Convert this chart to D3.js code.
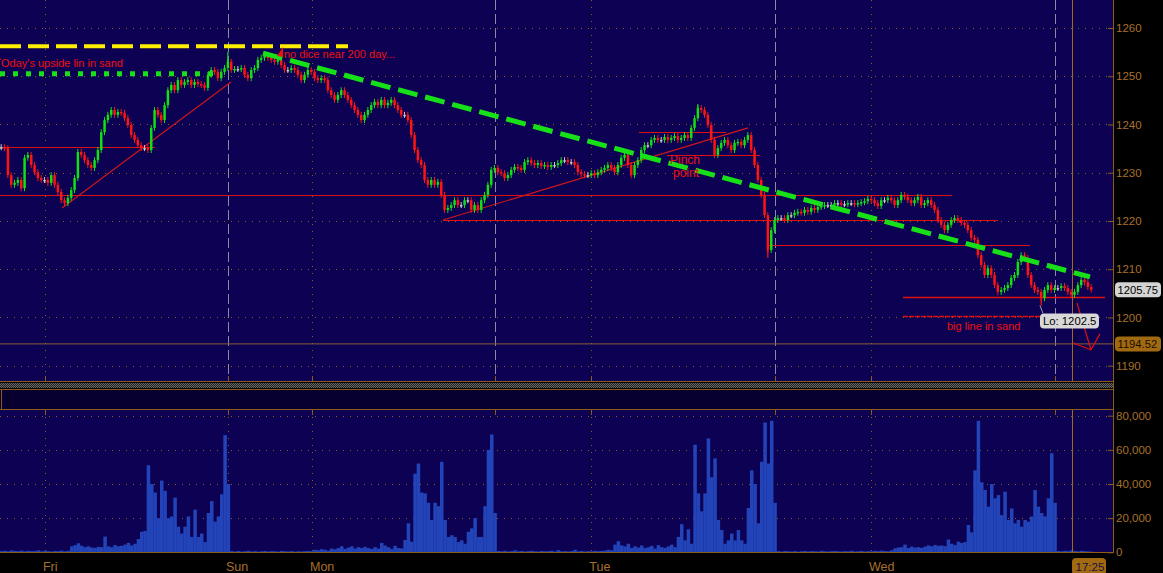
<!DOCTYPE html>
<html><head><meta charset="utf-8">
<script src="https://cdn.jsdelivr.net/npm/d3@7"></script>
<style>html,body{margin:0;padding:0;background:#000;overflow:hidden}svg{display:block}</style>
</head><body><svg id="c" width="1163" height="573"></svg>
<script>
// ---------- DATA ----------
// closing price per bar (bar index 0..327)
const closes = [
1235.3,1235.1,1229.5,1227.5,1227.9,1228.5,1226.8,1233.1,1233.7,1231.6,
1230.1,1228.9,1228.5,1228.5,1227.9,1229.5,1227.5,1226.0,1224.3,1223.7,
1224.8,1226.4,1228.9,1234.3,1233.7,1232.6,1231.6,1231.0,1232.6,1234.7,
1238.4,1240.9,1242.0,1243.0,1242.0,1242.6,1242.4,1241.3,1239.9,1237.8,
1236.8,1235.7,1235.1,1235.1,1234.7,1239.3,1243.0,1242.0,1240.9,1244.0,
1247.1,1248.2,1247.1,1249.2,1248.2,1248.8,1249.2,1248.2,1248.8,1248.4,
1248.2,1247.6,1250.3,1251.3,1250.9,1249.6,1250.9,1251.7,1253.0,1251.3,
1251.5,1251.5,1251.7,1250.3,1249.6,1251.3,1251.7,1253.4,1253.8,1254.4,
1253.8,1253.4,1253.0,1253.4,1252.3,1251.3,1251.3,1251.7,1251.3,1250.3,
1249.2,1250.3,1251.3,1250.9,1249.6,1249.2,1249.6,1249.2,1247.1,1246.1,
1245.1,1246.1,1247.1,1246.1,1245.1,1244.0,1243.0,1242.0,1240.9,1242.0,
1243.0,1244.0,1244.7,1244.0,1245.1,1244.0,1244.5,1245.1,1244.0,1243.0,
1242.0,1242.0,1240.9,1237.8,1234.7,1232.6,1231.6,1228.5,1227.5,1228.5,
1227.5,1228.1,1225.4,1222.3,1222.7,1223.3,1224.3,1223.3,1223.3,1224.3,
1224.3,1222.3,1223.3,1222.3,1224.3,1225.4,1227.5,1230.6,1231.0,1230.1,
1229.9,1228.9,1229.5,1230.6,1231.2,1231.0,1230.6,1232.2,1232.6,1232.0,
1231.6,1232.0,1231.4,1231.6,1231.2,1231.6,1231.6,1232.0,1232.6,1232.6,
1232.2,1232.2,1231.6,1230.1,1229.7,1229.5,1229.5,1229.9,1229.5,1230.1,
1230.6,1231.0,1231.6,1231.0,1230.1,1231.6,1233.1,1233.7,1231.6,1229.5,
1231.6,1232.6,1234.7,1235.7,1235.7,1236.8,1237.2,1236.8,1236.8,1237.4,
1236.8,1237.2,1237.6,1236.8,1237.2,1237.8,1237.2,1239.3,1241.3,1243.4,
1243.0,1242.0,1239.9,1236.8,1233.7,1235.1,1236.2,1236.8,1235.7,1234.7,
1236.2,1236.4,1235.7,1236.8,1237.8,1234.7,1231.6,1228.5,1225.4,1221.2,
1214.0,1218.1,1220.2,1220.6,1220.6,1220.2,1221.2,1221.2,1221.7,1221.9,
1221.7,1222.3,1221.9,1222.7,1222.3,1222.9,1223.1,1223.3,1223.3,1223.3,
1223.7,1223.7,1223.5,1223.5,1223.7,1223.7,1223.5,1223.7,1223.9,1224.1,
1224.6,1224.3,1223.7,1223.1,1224.3,1224.3,1224.8,1224.3,1223.3,1224.3,
1225.4,1225.0,1224.3,1223.7,1224.3,1225.0,1223.3,1223.7,1224.3,1223.3,
1222.3,1220.2,1219.2,1218.1,1219.2,1220.2,1220.6,1220.2,1219.6,1219.2,
1218.1,1216.5,1216.1,1212.9,1210.9,1208.8,1210.2,1208.8,1206.7,1205.3,
1205.7,1206.1,1206.7,1208.2,1208.8,1211.5,1212.9,1212.3,1208.8,1206.7,
1205.7,1205.3,1204.0,1205.7,1206.7,1205.7,1206.1,1206.1,1206.5,1206.1,
1205.3,1204.7,1205.3,1206.7,1207.8,1207.3,1206.3,1205.75
];
// notable wick extremes (bar index, price)
const wickIdx = [68, 209, 230, 312];
const wickPrice = [1255.1, 1244.2, 1212.4, 1202.5];

// volume per bar
const volumes = [
700,900,600,1100,800,700,1000,600,900,700,
800,1200,600,900,700,500,800,700,1000,600,
900,3500,4200,5300,3800,3000,3500,2800,2600,3200,
3000,9200,3500,3000,4200,3500,3800,4500,5500,4000,
5000,7800,12000,12500,51000,40000,35000,20000,42000,36000,
20000,21000,32000,15000,11000,15000,21000,9000,25000,9000,
11000,6000,23000,30000,18000,21000,34000,68600,40000,700,
500,800,400,600,900,500,700,400,600,800,
500,700,600,400,800,600,500,700,400,600,
500,700,800,600,1500,1200,1800,1500,1000,2200,
1800,2500,3500,2000,2800,3500,2200,3000,2500,3200,
2500,2000,3000,2200,5500,4000,3000,2000,3800,2500,
2300,7200,17000,6200,46000,52000,35000,34500,29000,19000,
29000,27000,53000,19000,9000,10000,9000,6000,7000,5000,
12000,14000,20000,9000,9000,27000,60000,69000,23000,800,
600,900,500,700,1200,600,800,500,700,900,
600,500,800,600,700,900,500,1300,600,700,
500,700,1500,600,800,500,700,600,900,700,
800,1000,1500,1200,4500,6500,4000,3500,5000,2500,
3500,2800,4000,2500,3000,3800,2200,4200,3000,2600,
3500,4500,3000,9000,16500,7000,13500,5000,63000,34500,
24000,34500,66700,44000,55000,19000,13000,5000,7000,11000,
7000,13000,7000,5000,26000,48000,40000,17000,53000,76000,
52000,77000,29000,700,500,800,600,500,700,400,
600,800,500,700,600,500,900,600,500,700,
800,600,500,700,600,900,500,600,800,500,
700,600,900,700,1000,800,600,1200,2300,2800,
3000,4500,2500,3300,2800,3000,2600,3300,4000,3500,
4300,3800,4000,3600,7500,5000,4300,6200,5500,6000,
16000,11700,48000,77000,41000,36500,26700,40000,31600,33500,
21800,35500,19000,25700,17000,19000,15000,19000,18000,21000,
36500,26700,23000,21000,31600,58000,29000,800,600,900,
700,1200,800,600,900,700,500,400
];

const priceTicks = [1190,1200,1210,1220,1230,1240,1250,1260];
const volumeTicks = [0,20000,40000,60000,80000];
const dayLabels = ["Fri","Sun","Mon","Tue","Wed"];
const dayTickIdx = [13.5,68.4,93.6,177.4,261.3];
const midnightIdx = [13.5,93.6,177.4,261.3];
const sessionIdx = [68.4,148.6,232.6,316.6];
const nowIdx = 321.7;
const nowLabel = "17:25";
const lastPrice = 1205.75;
const lowIdx = 312, lowPrice = 1202.5;
const markPrice = 1194.52;

// drawn annotations: horizontal levels [price, fromIdx, toIdx]
const levelPrices = [1235.3, 1225.4, 1220.2, 1215.0, 1204.3, 1238.4, 1233.7];
const levelFrom   = [0,      0,      132.9,  230.4,  270.9,  191.7,  200.1];
const levelTo     = [46.5,   285.6,  299.4,  309.0,  331.5,  217.8,  228.0];
const dashedLevel = [1200.2, 270.9, 312.0];
// rising support lines [idx0, p0, idx1, p1]
const supportA = [18.6, 1222.7, 69.3, 1248.8];
const supportB = [132.9, 1220.2, 224.4, 1239.3];
const yellowLine = [0, 1256.2, 104.4, 1256.2];
const greenDotted = [0, 1250.5, 65.1, 1250.5];
const greenTrend = [78.9, 1254.8, 327.0, 1208.4];
const arrowIdx = [323.1, 327.3, 330.0];
const arrowPrice = [1203.0, 1193.3, 1196.6];
const arrowTail = [321.9, 1194.7];

// ---------- DRAW ----------
const svg = d3.select("#c");
const FONT = "'Liberation Sans', Arial, sans-serif";
const NAVY = "#0c0152", AX = "#8c5c1c", AXT = "#a8702c";
const xs = d3.scaleLinear().domain([0, 334]).range([0, 1113.3]);
const ys = d3.scaleLinear().domain([1190, 1260]).range([365.7, 28]);
const yv = d3.scaleLinear().domain([0, 80000]).range([552.3, 415.7]);
const PR = 1113; // plot right edge

const defs = svg.append("defs");
const pat = defs.append("pattern").attr("id","chk").attr("width",2).attr("height",2).attr("patternUnits","userSpaceOnUse");
pat.append("rect").attr("width",2).attr("height",2).attr("fill","#222");
pat.append("rect").attr("width",1).attr("height",1).attr("fill","#666");
pat.append("rect").attr("x",1).attr("y",1).attr("width",1).attr("height",1).attr("fill","#666");
defs.append("clipPath").attr("id","pclip").append("rect").attr("x",0).attr("y",0).attr("width",PR).attr("height",381);
defs.append("clipPath").attr("id","vclip").append("rect").attr("x",0).attr("y",410).attr("width",PR).attr("height",142);

svg.append("rect").attr("width",1163).attr("height",573).attr("fill","#000");
svg.append("rect").attr("x",0).attr("y",0).attr("width",PR).attr("height",381).attr("fill",NAVY);
// separator
svg.append("rect").attr("x",0).attr("y",383).attr("width",PR).attr("height",5).attr("fill","url(#chk)");
svg.append("rect").attr("x",0).attr("y",390).attr("width",PR).attr("height",19).attr("fill","#07002e");
[381.5,389.5,409.5].forEach(y=>svg.append("line").attr("x1",0).attr("x2",PR).attr("y1",y).attr("y2",y).attr("stroke",AX));
svg.append("line").attr("x1",1.5).attr("x2",1.5).attr("y1",389).attr("y2",410).attr("stroke",AX);
// volume panel
svg.append("rect").attr("x",0).attr("y",410).attr("width",PR).attr("height",142).attr("fill",NAVY);
svg.append("line").attr("x1",0).attr("x2",PR).attr("y1",552.5).attr("y2",552.5).attr("stroke",AX);

// grids
const pg = svg.append("g").attr("clip-path","url(#pclip)");
priceTicks.forEach(p=>pg.append("line").attr("x1",0).attr("x2",PR).attr("y1",Math.round(ys(p))+0.5).attr("y2",Math.round(ys(p))+0.5)
  .attr("stroke",AX).attr("stroke-dasharray","1,6"));
midnightIdx.forEach(i=>pg.append("line").attr("x1",Math.round(xs(i))+0.5).attr("x2",Math.round(xs(i))+0.5).attr("y1",0).attr("y2",381)
  .attr("stroke",AX).attr("stroke-dasharray","1,6"));
sessionIdx.forEach(i=>pg.append("line").attr("x1",Math.round(xs(i))+0.5).attr("x2",Math.round(xs(i))+0.5).attr("y1",0).attr("y2",381)
  .attr("stroke","#8a8aa2").attr("stroke-dasharray","10,4"));
const vg = svg.append("g").attr("clip-path","url(#vclip)");
volumeTicks.slice(1).forEach(v=>vg.append("line").attr("x1",0).attr("x2",PR).attr("y1",Math.round(yv(v))+0.5).attr("y2",Math.round(yv(v))+0.5)
  .attr("stroke",AX).attr("stroke-dasharray","1,6"));
dayTickIdx.forEach(i=>vg.append("line").attr("x1",Math.round(xs(i))+0.5).attr("x2",Math.round(xs(i))+0.5).attr("y1",410).attr("y2",552)
  .attr("stroke",AX).attr("stroke-dasharray","1,6"));
// small ticks on panel edges
dayTickIdx.concat(sessionIdx).forEach(i=>{
  const x = Math.round(xs(i))+0.5;
  svg.append("line").attr("x1",x).attr("x2",x).attr("y1",376).attr("y2",381).attr("stroke",AX);
  svg.append("line").attr("x1",x).attr("x2",x).attr("y1",410).attr("y2",415).attr("stroke",AX);
});

// mark line 1194.52
pg.append("line").attr("x1",0).attr("x2",PR).attr("y1",ys(markPrice)).attr("y2",ys(markPrice)).attr("stroke","#8a6038").attr("stroke-width",1);

// horizontal red levels
levelPrices.forEach((p,k)=>{
  pg.append("line").attr("x1",xs(levelFrom[k])).attr("x2",xs(levelTo[k])).attr("y1",Math.round(ys(p))+0.5).attr("y2",Math.round(ys(p))+0.5)
    .attr("stroke","#e01010").attr("stroke-width", k===4?1.6:1);
});
pg.append("line").attr("x1",xs(dashedLevel[1])).attr("x2",xs(dashedLevel[2])).attr("y1",ys(dashedLevel[0])).attr("y2",ys(dashedLevel[0]))
  .attr("stroke","#e01010").attr("stroke-width",1.6).attr("stroke-dasharray","5,1");
// support lines
[supportA, supportB].forEach(s=>pg.append("line").attr("x1",xs(s[0])).attr("y1",ys(s[1])).attr("x2",xs(s[2])).attr("y2",ys(s[3]))
  .attr("stroke","#d01818").attr("stroke-width",1.1));

// volume bars
const bw = xs(1)-xs(0);
vg.selectAll("rect.v").data(volumes).join("rect").attr("class","v")
  .attr("x",(d,i)=>xs(i)).attr("width",bw+0.2).attr("y",d=>yv(d)).attr("height",d=>yv(0)-yv(d)).attr("fill","#2244b8");

// price bars
const bars = pg.append("g");
closes.forEach((c,i)=>{
  const o = i>0 ? closes[i-1] : c;
  const hi = Math.max(o,c), lo = Math.min(o,c);
  const col = c>o ? "#12e012" : (c<o ? "#ff1414" : "#c8c8c8");
  const x = xs(i);
  const y1 = ys(hi), y2 = ys(lo);
  bars.append("line").attr("x1",x+1.2).attr("x2",x+1.2).attr("y1",y1-3).attr("y2",y2+3).attr("stroke",col).attr("stroke-width",1);
  bars.append("rect").attr("x",x).attr("width",2.5).attr("y",y1).attr("height",Math.max(1.5,y2-y1)).attr("fill",col);
});
wickIdx.forEach((i,k)=>{
  const c = closes[i];
  bars.append("line").attr("x1",xs(i)+1.2).attr("x2",xs(i)+1.2).attr("y1",ys(c)).attr("y2",ys(wickPrice[k]))
    .attr("stroke", wickPrice[k]>c ? "#12e012" : "#ff1414").attr("stroke-width",1.2);
});

// trend lines
const seg = (s,col,w,dash)=>pg.append("line").attr("x1",xs(s[0])).attr("y1",ys(s[1])).attr("x2",xs(s[2])).attr("y2",ys(s[3]))
  .attr("stroke",col).attr("stroke-width",w).attr("stroke-dasharray",dash);
seg(yellowLine,"#ffee00",4,"21,7");
seg(greenDotted,"#18e018",5,"5,8");
seg(greenTrend,"#18e018",5,"20,8");

// red arrow
pg.append("polyline").attr("points",[[xs(arrowIdx[0]),ys(arrowPrice[0])],[xs(arrowIdx[1]),ys(arrowPrice[1])],[xs(arrowIdx[2]),ys(arrowPrice[2])]].map(p=>p.join(",")).join(" "))
  .attr("fill","none").attr("stroke","#e01010").attr("stroke-width",1.2);
pg.append("line").attr("x1",xs(arrowTail[0])).attr("y1",ys(arrowTail[1])).attr("x2",xs(arrowIdx[1])).attr("y2",ys(arrowPrice[1]))
  .attr("stroke","#e01010").attr("stroke-width",1.2);

// text annotations
const note = (txt,x,y,size)=>svg.append("text").attr("x",x).attr("y",y).text(txt).attr("fill","#ee1010")
  .attr("font-family",FONT).attr("font-size",size||11);
svg.append("rect").attr("x",0).attr("y",58.5).attr("width",1.5).attr("height",1).attr("fill","#ee1010");
note("Oday's upside lin in sand", 1, 66.5);
svg.append("path").attr("d","M277,56 L283,47 L283,57 Z").attr("fill","#ee1010");
note("no dice near 200 day...", 284, 58);
note("Pinch", 670, 163.5, 12);
note("point", 673, 177, 12);
note("big line in sand", 947, 329.5);

// now line
const nx = Math.round(xs(nowIdx))+0.5;
svg.append("line").attr("x1",nx).attr("x2",nx).attr("y1",0).attr("y2",381).attr("stroke","#a06a20");
svg.append("line").attr("x1",nx).attr("x2",nx).attr("y1",410).attr("y2",552).attr("stroke","#a06a20");

// low label
const lx = xs(lowIdx), ly = ys(lowPrice);
svg.append("line").attr("x1",lx).attr("y1",ly).attr("x2",lx+3).attr("y2",ly+8).attr("stroke","#9a9aa8");
svg.append("rect").attr("x",lx).attr("y",ly+8).attr("width",59).attr("height",15).attr("rx",4).attr("fill","#d8d8d8");
svg.append("text").attr("x",lx+3).attr("y",ly+19.5).text("Lo: "+lowPrice).attr("fill","#000").attr("font-family",FONT).attr("font-size",11.3);

// axis line
svg.append("line").attr("x1",PR+0.5).attr("x2",PR+0.5).attr("y1",0).attr("y2",553).attr("stroke",AX);

// price axis
const pa = svg.append("g").attr("transform","translate(1108,0)")
  .call(d3.axisRight(ys).tickValues(priceTicks).tickSize(5).tickPadding(3).tickFormat(d3.format("d")));
pa.select(".domain").remove();
pa.selectAll("line").attr("stroke",AX);
pa.selectAll("text").attr("fill",AXT).attr("font-family",FONT).attr("font-size",11.5);
// volume axis
const va = svg.append("g").attr("transform","translate(1108,0)")
  .call(d3.axisRight(yv).tickValues(volumeTicks).tickSize(5).tickPadding(3).tickFormat(d3.format(",")));
va.select(".domain").remove();
va.selectAll("line").attr("stroke",AX);
va.selectAll("text").attr("fill",AXT).attr("font-family",FONT).attr("font-size",11.5);

// price tags
const tag = (p,fill,tc)=>{
  const y = ys(p);
  svg.append("rect").attr("x",1115).attr("y",y-7.5).attr("width",46).attr("height",15).attr("rx",4).attr("fill",fill);
  svg.append("text").attr("x",1117.5).attr("y",y+4.3).text(p.toFixed(2)).attr("fill",tc).attr("font-family",FONT).attr("font-size",11.2);
};
tag(lastPrice,"#d4d4d4","#000");
tag(markPrice,"#a26a10","#1a0c00");

// day labels
dayTickIdx.forEach((i,k)=>svg.append("text").attr("x",xs(i)-2).attr("y",571).text(dayLabels[k])
  .attr("fill",AXT).attr("font-family",FONT).attr("font-size",12.5));
// now label
svg.append("rect").attr("x",nx-0.5).attr("y",558).attr("width",34).attr("height",17).attr("rx",4).attr("fill","#a26a10");
svg.append("text").attr("x",nx+3).attr("y",570.5).text(nowLabel).attr("fill","#1a1040").attr("font-family",FONT).attr("font-size",11.5);
</script></body></html>
